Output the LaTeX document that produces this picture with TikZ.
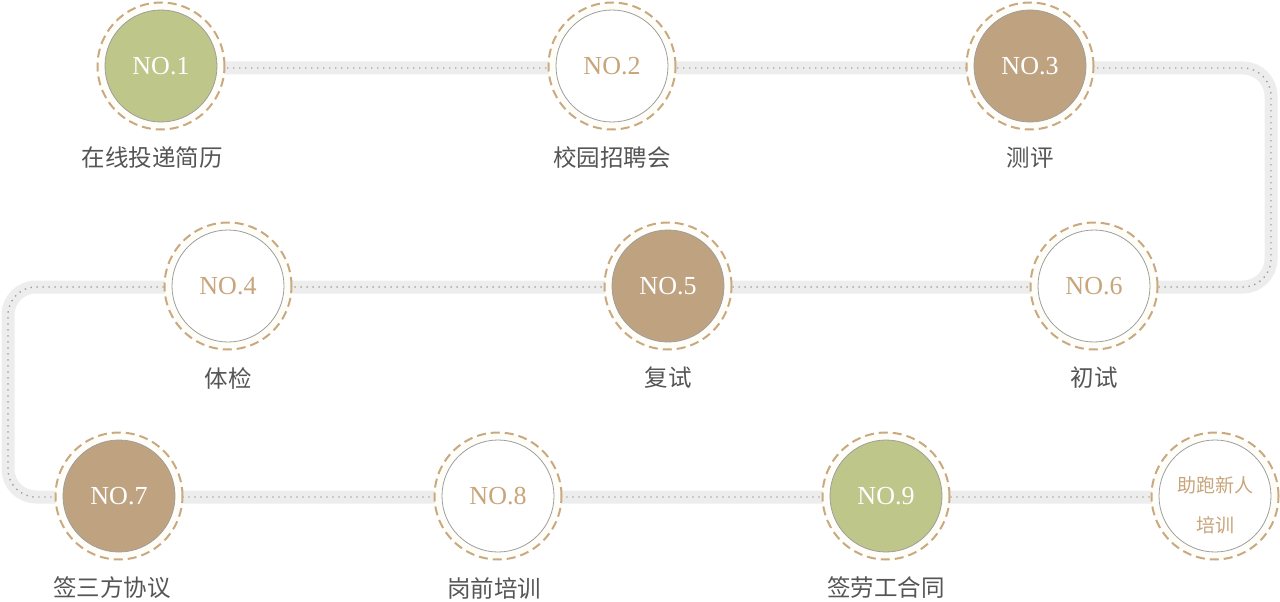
\documentclass[tikz,border=0pt]{standalone}
\usepackage{fontspec}
\setmainfont{Liberation Serif}
\newfontfamily\cjk{Noto Sans CJK SC}
\definecolor{greenc}{HTML}{BEC68A}
\definecolor{tanc}{HTML}{BFA381}
\definecolor{ringc}{HTML}{C9AA80}
\definecolor{creamc}{HTML}{FFFDF8}
\definecolor{tantext}{HTML}{C8A57B}
\definecolor{labc}{HTML}{555555}
\definecolor{trackc}{HTML}{EDEDED}
\definecolor{dotc}{HTML}{A8A194}
\begin{document}
\begin{tikzpicture}[x=1pt,y=-1pt,
  ring/.style={circle, draw=ringc, line width=2pt, dash pattern=on 9pt off 5pt, fill=creamc, minimum size=127pt, inner sep=0pt},
  disc/.style={circle, draw=black!38, line width=0.8pt, minimum size=112pt, inner sep=0pt, font=\fontsize{26}{26}\selectfont},
  dgreen/.style={disc, fill=greenc, text=white},
  dtan/.style={disc, fill=tanc, text=white},
  dopen/.style={disc, fill=white, text=tantext},
  lab/.style={font=\cjk\fontsize{23.5}{23.5}\selectfont, text=labc},
  track/.style={line width=13pt, draw=trackc, rounded corners=28pt},
  dots/.style={line width=1.4pt, draw=dotc, dash pattern=on 1.4pt off 4.6pt, rounded corners=28pt}
]
\useasboundingbox (0,0) rectangle (1280,602);
% positions
\coordinate (p1) at (161,66);
\coordinate (p2) at (612,66);
\coordinate (p3) at (1030,66);
\coordinate (p4) at (228,286);
\coordinate (p5) at (668,286);
\coordinate (p6) at (1094,286);
\coordinate (p7) at (119,496);
\coordinate (p8) at (498,496);
\coordinate (p9) at (886,496);
\coordinate (p10) at (1215,496);
\coordinate (k1) at (1271,68);
\coordinate (k2) at (1271,287);
\coordinate (k3) at (8,287);
\coordinate (k4) at (8,497);
% track
\draw[track] (p1|-k1) -- (k1) -- (k2) -- (k3) -- (k4) -- (p10|-k4);
\draw[dots] (p1|-k1) -- (k1) -- (k2) -- (k3) -- (k4) -- (p10|-k4);
% circles
\foreach \i in {1,...,10} {\node[ring] (r\i) at (p\i) {};}
\node[dgreen] (n1) at (p1) {NO.1};
\node[dopen]  (n2) at (p2) {NO.2};
\node[dtan]   (n3) at (p3) {NO.3};
\node[dopen]  (n4) at (p4) {NO.4};
\node[dtan]   (n5) at (p5) {NO.5};
\node[dopen]  (n6) at (p6) {NO.6};
\node[dtan]   (n7) at (p7) {NO.7};
\node[dopen]  (n8) at (p8) {NO.8};
\node[dgreen] (n9) at (p9) {NO.9};
\node[dopen]  (n10) at (p10) {};
\node[text=tantext, font=\cjk\fontsize{19}{40}\selectfont, align=center, inner sep=0pt] (t10) at ([yshift=-9pt]p10) {助跑新人\\培训};
% labels
\node[lab] (l1) at ([xshift=-9pt,yshift=-92pt]p1) {在线投递简历};
\node[lab] (l2) at ([yshift=-92pt]p2) {校园招聘会};
\node[lab] (l3) at ([yshift=-92pt]p3) {测评};
\node[lab] (l4) at ([yshift=-92pt]p4) {体检};
\node[lab] (l5) at ([yshift=-92pt]p5) {复试};
\node[lab] (l6) at ([yshift=-92pt]p6) {初试};
\node[lab] (l7) at ([xshift=-7pt,yshift=-92pt]p7) {签三方协议};
\node[lab] (l8) at ([xshift=-4pt,yshift=-92pt]p8) {岗前培训};
\node[lab] (l9) at ([yshift=-92pt]p9) {签劳工合同};
\end{tikzpicture}
\end{document}
